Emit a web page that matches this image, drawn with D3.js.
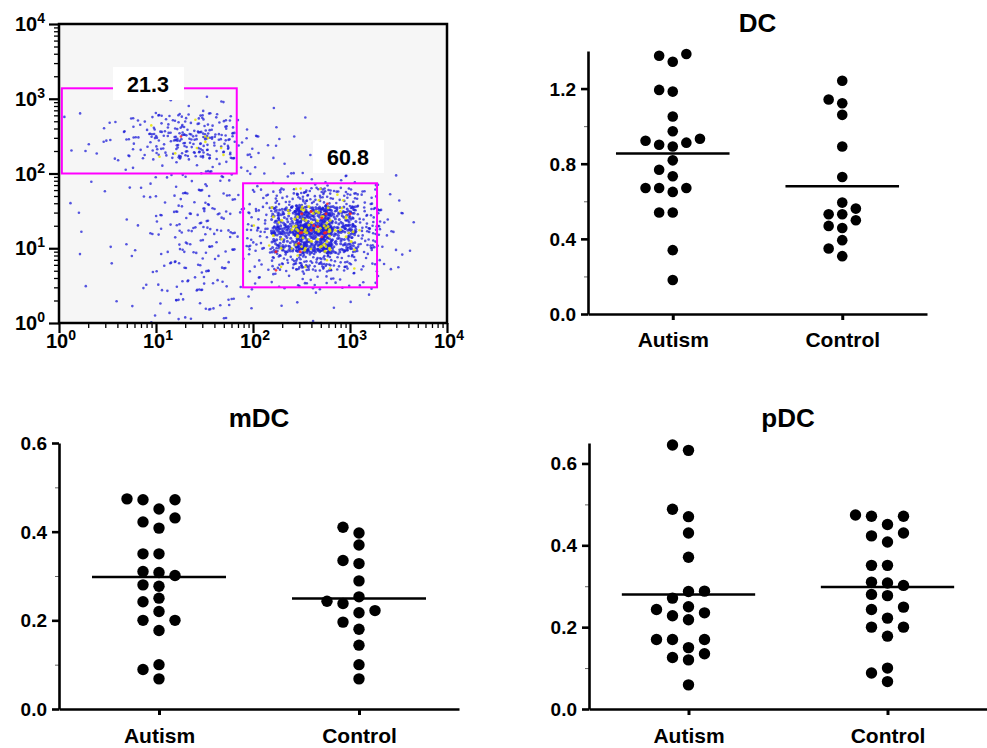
<!DOCTYPE html>
<html>
<head>
<meta charset="utf-8">
<script src="https://cdn.jsdelivr.net/npm/d3@7"></script>
<style>
body { margin: 0; background: #fff; }
text { font-family: "Liberation Sans", Arial, Helvetica, sans-serif; font-weight: bold; fill: #000; }
</style>
</head>
<body>
<svg width="987" height="748"></svg>
<script>
// ---- data ----
const groups = ["Autism", "Control"];

const dcAutism = [1.384, 1.375, 1.343, 1.193, 1.184, 1.051, 0.973, 0.922, 0.933, 0.901, 0.892, 0.912,
  0.818, 0.768, 0.733, 0.671, 0.671, 0.650, 0.671, 0.540, 0.540, 0.340, 0.181];
const dcControl = [1.242, 1.122, 1.142, 1.060, 0.892, 0.729, 0.593, 0.561, 0.531, 0.531, 0.499, 0.469,
  0.458, 0.393, 0.349, 0.308];

const mdcAutism = [0.472, 0.472, 0.474, 0.451, 0.422, 0.431, 0.408, 0.350, 0.350, 0.308, 0.310, 0.301,
  0.280, 0.277, 0.250, 0.242, 0.220, 0.200, 0.200, 0.177, 0.100, 0.089, 0.068];
const mdcControl = [0.410, 0.397, 0.370, 0.335, 0.328, 0.289, 0.253, 0.243, 0.238, 0.222, 0.217, 0.196,
  0.180, 0.144, 0.100, 0.068];

const pdcAutism = [0.632, 0.645, 0.488, 0.470, 0.430, 0.371, 0.288, 0.287, 0.271, 0.243, 0.250, 0.228,
  0.235, 0.218, 0.170, 0.170, 0.170, 0.150, 0.126, 0.135, 0.120, 0.059];
const pdcControl = [0.471, 0.471, 0.474, 0.451, 0.423, 0.430, 0.408, 0.351, 0.351, 0.308, 0.310, 0.302,
  0.280, 0.277, 0.249, 0.243, 0.222, 0.200, 0.200, 0.178, 0.100, 0.088, 0.067];

const dcTicks = [0, 0.4, 0.8, 1.2], dcMinor = [0.2, 0.6, 1.0];
const mdcTicks = [0, 0.2, 0.4, 0.6], mdcMinor = [0.1, 0.3, 0.5];
const pdcTicks = [0, 0.2, 0.4, 0.6], pdcMinor = [0.1, 0.3, 0.5];

// flow plot: event counts per cell of 0.25 decades (rows: top 10^4 -> bottom 10^0, cols: 10^0 -> 10^4)
const flowCounts = [
  [0,0,0,0,0,0,0,0,0,0,0,0,0,0,0,0],
  [0,0,0,0,0,0,0,0,0,0,0,0,0,0,0,0],
  [0,0,0,0,0,0,0,0,0,0,0,0,0,0,0,0],
  [0,0,0,0,0,0,0,0,0,0,0,0,0,0,0,0],
  [0,0,0,1,2,2,3,1,1,0,0,0,0,0,0,0],
  [1,2,5,12,25,32,24,4,2,1,0,0,0,0,0,0],
  [3,2,5,12,30,42,36,12,3,2,1,0,0,0,0,0],
  [0,1,1,2,4,6,8,5,3,2,2,1,0,0,0,0],
  [0,1,1,2,4,7,6,3,2,4,7,8,5,2,0,0],
  [1,0,1,2,6,9,9,4,12,35,55,40,18,5,0,0],
  [1,1,1,2,6,11,10,5,25,95,165,90,38,7,1,0],
  [1,0,1,2,5,10,10,4,25,95,170,85,35,6,1,0],
  [1,0,1,1,5,8,8,3,12,45,70,40,16,4,0,0],
  [0,1,0,1,5,9,7,3,4,10,14,10,6,2,0,0],
  [1,0,0,1,4,6,5,3,2,2,2,1,1,1,0,0],
  [0,0,1,2,4,6,4,2,1,0,1,1,0,0,0,0]
];
const flowMajor = [1, 10, 100, 1000, 10000];
const flowExp = ["0", "1", "2", "3", "4"];
// gates: [xmin, xmax], [ymin, ymax] and percentage
const gateX = [[1.07, 68], [79, 1900]];
const gateY = [[100, 1380], [3.0, 74]];
const gatePct = ["21.3", "60.8"];

const svg = d3.select("svg");

// ---------------- flow cytometry plot ----------------
const fx = d3.scaleLog().domain([1, 1e4]).range([59, 447]);
const fy = d3.scaleLog().domain([1, 1e4]).range([323, 24]);

svg.append("defs").append("clipPath").attr("id", "flowclip")
  .append("rect").attr("x", 60).attr("y", 25).attr("width", 386).attr("height", 297);

svg.append("rect").attr("x", 59).attr("y", 24).attr("width", 388).attr("height", 299).attr("fill", "#f6f6f6");

// spread each cell's events over (a bit beyond) the cell with a Halton pattern
function halton(i, b) {
  let f = 1, r = 0;
  while (i > 0) { f /= b; r += f * (i % b); i = Math.floor(i / b); }
  return r;
}
const events = [];
flowCounts.forEach((row, r) => row.forEach((n, c) => {
  const ly0 = 4 - (r + 1) * 0.25, lx0 = c * 0.25;
  const start = r * 53 + c * 29 + 1;
  for (let i = 0; i < n; i++) {
    const u = halton(start + i, 2), v = halton(start + i, 3), h = halton(start + i, 5);
    let col = 0; // 0 blue, 1 yellow, 2 red
    if (n >= 100) col = h < 0.03 ? 2 : (h < 0.15 ? 1 : 0);
    else if (n >= 40) col = h < 0.015 ? 2 : (h < 0.08 ? 1 : 0);
    else if (n >= 20) col = h < 0.05 ? 1 : 0;
    events.push({ lx: lx0 + (u * 1.5 - 0.25) * 0.25, ly: ly0 + (v * 1.5 - 0.25) * 0.25, col, dense: n >= 80 });
  }
}));
events.sort((a, b) => a.col - b.col);
const evColor = ["#1e1ed8", "#e4e400", "#ff2020"];

svg.append("g").attr("clip-path", "url(#flowclip)")
  .selectAll("circle").data(events).enter().append("circle")
  .attr("cx", d => fx(Math.pow(10, d.lx)))
  .attr("cy", d => fy(Math.pow(10, d.ly)))
  .attr("r", d => d.dense ? 1.5 : 1.3)
  .attr("fill", d => evColor[d.col])
  .attr("opacity", d => d.col === 0 ? 0.75 : 0.85);

// gates
gateX.forEach((gx, i) => {
  svg.append("rect")
    .attr("x", fx(gx[0])).attr("y", fy(gateY[i][1]))
    .attr("width", fx(gx[1]) - fx(gx[0])).attr("height", fy(gateY[i][0]) - fy(gateY[i][1]))
    .attr("fill", "none").attr("stroke", "#ff00ff").attr("stroke-width", 2);
});
// gate labels (white boxes)
const labelPos = [[148, 84], [348, 157]];
gatePct.forEach((t, i) => {
  svg.append("rect").attr("x", labelPos[i][0] - 35).attr("y", labelPos[i][1] - 17)
    .attr("width", 71).attr("height", 33).attr("fill", "#fff");
  svg.append("text").attr("x", labelPos[i][0]).attr("y", labelPos[i][1] + 7.5)
    .attr("text-anchor", "middle").attr("font-size", 21.5).text(t);
});

// frame
svg.append("rect").attr("x", 59).attr("y", 24).attr("width", 388).attr("height", 299)
  .attr("fill", "none").attr("stroke", "#000").attr("stroke-width", 2.5);

// log axes
const flowMinor = [];
[1, 10, 100, 1000].forEach(b => { for (let m = 2; m <= 9; m++) flowMinor.push(m * b); });

function logAxis(make, tr) {
  const gMin = svg.append("g").attr("transform", tr)
    .call(make().tickValues(flowMinor).tickSize(5).tickFormat(""));
  const gMaj = svg.append("g").attr("transform", tr)
    .call(make().tickValues(flowMajor).tickSize(10).tickFormat(""));
  [gMin, gMaj].forEach(g => g.select(".domain").remove());
  gMin.selectAll(".tick line").attr("stroke-width", 1.3);
  gMaj.selectAll(".tick line").attr("stroke-width", 2.2);
}
logAxis(() => d3.axisBottom(fx), "translate(0,323)");
logAxis(() => d3.axisLeft(fy), "translate(59,0)");

flowMajor.forEach((v, i) => {
  const tb = svg.append("text").attr("x", fx(v) + 2).attr("y", 348)
    .attr("text-anchor", "middle").attr("font-size", 20);
  tb.append("tspan").text("10");
  tb.append("tspan").attr("dy", -8).attr("font-size", 14).text(flowExp[i]);
  const tl = svg.append("text").attr("x", 45).attr("y", fy(v) + 7)
    .attr("text-anchor", "end").attr("font-size", 20);
  tl.append("tspan").text("10");
  tl.append("tspan").attr("dy", -8).attr("font-size", 14).text(flowExp[i]);
});

// ---------------- dot plots ----------------
function swarm(vals, ys, r) {
  const pts = vals.map(v => ({ v, y: ys(v) })).sort((a, b) => a.v - b.v);
  const placed = [];
  pts.forEach(p => {
    for (let k = 0; k < 30; k++) {
      const off = k === 0 ? 0 : (k % 2 === 1 ? -Math.ceil(k / 2) : Math.ceil(k / 2));
      if (!placed.some(q => q.col === off && Math.abs(q.y - p.y) < 2 * r + 0.5)) { p.col = off; break; }
    }
    placed.push(p);
  });
  return placed;
}

function panel(cfg) {
  const g = svg.append("g");
  const xs = d3.scalePoint().domain(groups).range([cfg.x0, cfg.x1]).padding(0.5);
  const ys = d3.scaleLinear().domain([0, cfg.ymax]).range([cfg.yb, cfg.yt]);

  // minor ticks
  const ym = g.append("g").attr("transform", `translate(${cfg.x0},0)`)
    .call(d3.axisLeft(ys).tickValues(cfg.minor).tickSize(4).tickFormat(""));
  ym.select(".domain").remove();
  ym.selectAll(".tick line").attr("stroke", "#666").attr("stroke-width", 1);

  const ya = g.append("g").attr("transform", `translate(${cfg.x0},0)`)
    .call(d3.axisLeft(ys).tickValues(cfg.ticks).tickSize(7).tickSizeOuter(0).tickFormat(d3.format(".1f")));
  ya.select(".domain").attr("stroke-width", 2.6);
  ya.selectAll(".tick line").attr("stroke-width", 2.6);
  ya.selectAll(".tick text").attr("x", -12).attr("dy", "0.34em").attr("font-size", 19)
    .style("font-family", "'Liberation Sans', Arial, sans-serif").style("font-weight", "bold");

  const xa = g.append("g").attr("transform", `translate(0,${cfg.yb})`)
    .call(d3.axisBottom(xs).tickSize(6).tickSizeOuter(0));
  xa.select(".domain").attr("stroke-width", 2.6);
  xa.selectAll(".tick line").attr("stroke-width", 3);
  xa.selectAll(".tick text").attr("y", cfg.labelY).attr("dy", 0).attr("font-size", 21)
    .style("font-family", "'Liberation Sans', Arial, sans-serif").style("font-weight", "bold");

  g.append("text").attr("x", (cfg.x0 + cfg.x1) / 2).attr("y", cfg.titleY)
    .attr("text-anchor", "middle").attr("font-size", 26).text(cfg.title);

  const step = xs.step();
  cfg.values.forEach((vals, gi) => {
    const cx = xs(groups[gi]);
    const pts = swarm(vals, ys, cfg.r);
    g.append("g").selectAll("circle").data(pts).enter().append("circle")
      .attr("cx", d => cx + d.col * cfg.dx)
      .attr("cy", d => d.y)
      .attr("r", cfg.r)
      .attr("fill", "#000");
    const m = d3.mean(vals);
    g.append("line")
      .attr("x1", cx - step * 0.335).attr("x2", cx + step * 0.335)
      .attr("y1", ys(m)).attr("y2", ys(m))
      .attr("stroke", "#000").attr("stroke-width", 2.6);
  });
}

panel({ title: "DC", values: [dcAutism, dcControl], ticks: dcTicks, minor: dcMinor, ymax: 1.4,
  x0: 588, x1: 927, yt: 51, yb: 314, r: 5.3, dx: 13.6, labelY: 33, titleY: 32 });
panel({ title: "mDC", values: [mdcAutism, mdcControl], ticks: mdcTicks, minor: mdcMinor, ymax: 0.6,
  x0: 59, x1: 459, yt: 443, yb: 709, r: 5.7, dx: 16, labelY: 34, titleY: 427 });
panel({ title: "pDC", values: [pdcAutism, pdcControl], ticks: pdcTicks, minor: pdcMinor, ymax: 0.65,
  x0: 589, x1: 987, yt: 443, yb: 709, r: 5.7, dx: 16, labelY: 34, titleY: 427 });
</script>
</body>
</html>
